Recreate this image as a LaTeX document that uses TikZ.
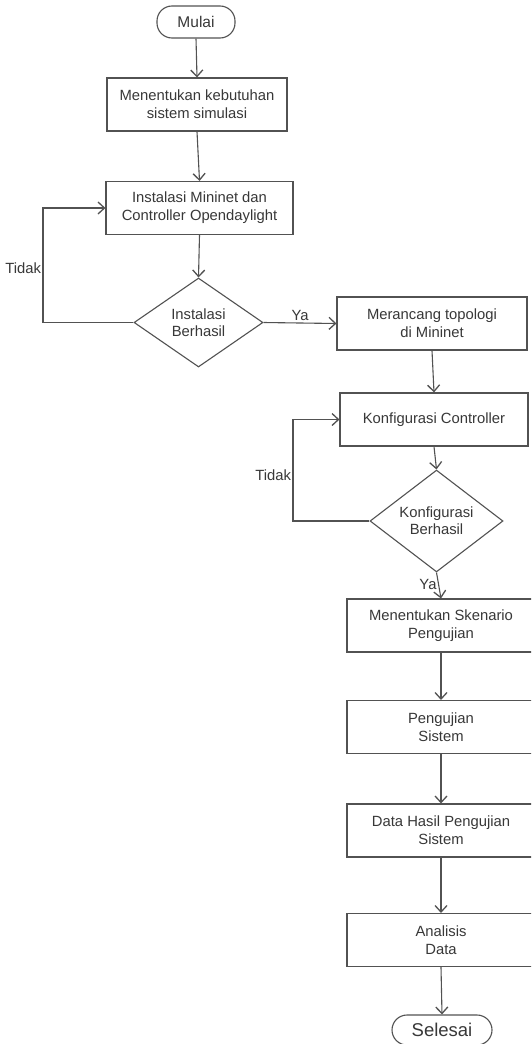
\documentclass[tikz,border=0pt]{standalone}
\usepackage{fontspec}
\setmainfont{Liberation Sans}
\usetikzlibrary{arrows.meta,shapes.geometric}
\tikzset{
  every node/.style={text=black!78, font=\fontsize{14.8pt}{18pt}\selectfont},
  procbox/.style={draw=black!68, line width=1.1pt, rectangle, inner sep=0pt, minimum height=53pt, align=center},
  termbox/.style={draw=black!68, line width=1.1pt, rectangle, rounded corners=15pt, inner sep=0pt, align=center},
  decbox/.style={draw=black!68, line width=1.1pt, diamond, inner sep=0pt, align=center, font=\fontsize{14.8pt}{17pt}\selectfont},
  arr/.style={draw=black!68, line width=1.1pt, -{Straight Barb[length=6.5pt,width=12pt,line width=1.3pt]}},
  lbl/.style={inner sep=1.5pt}
}
\begin{document}
\begin{tikzpicture}[x=1pt,y=-1pt]
\useasboundingbox (0,0) rectangle (531,1044);
\clip (0,0) rectangle (531,1044);
\fill[white] (0,0) rectangle (531,1044);

\node[termbox, minimum width=78pt, minimum height=32pt, font=\fontsize{15.5pt}{18pt}\selectfont] (mulai) at (196,22) {Mulai};
\node[procbox, minimum width=180pt] (b1) at (197,104.5) {Menentukan kebutuhan\\sistem simulasi};
\node[procbox, minimum width=187pt] (b2) at (199.5,208) {Instalasi Mininet dan\\Controller Opendaylight};
\node[decbox, minimum width=129pt, minimum height=89pt] (d1) at (198.5,322.5) {Instalasi\\Berhasil};
\node[procbox, minimum width=190pt] (b3) at (432,323.5) {Merancang topologi\\di Mininet};
\node[procbox, minimum width=188pt] (b4) at (434,419.5) {Konfigurasi Controller};
\node[decbox, minimum width=133pt, minimum height=88pt] (d2) at (436.5,521) {Konfigurasi\\Berhasil};
\node[procbox, minimum width=188pt] (b5) at (441,625.5) {Menentukan Skenario\\Pengujian};
\node[procbox, minimum width=188pt] (b6) at (441,727) {Pengujian\\Sistem};
\node[procbox, minimum width=188pt] (b7) at (441,830.5) {Data Hasil Pengujian\\Sistem};
\node[procbox, minimum width=188pt] (b8) at (441,940) {Analisis\\Data};
\node[termbox, minimum width=100pt, minimum height=30pt, font=\fontsize{18.5pt}{20pt}\selectfont] (selesai) at (442,1030) {Selesai};

\coordinate (t1) at (43,322.5);
\coordinate (t2) at (293,521);

\draw[arr] (mulai.south) -- (b1.north);
\draw[arr] (b1.south) -- (b2.north);
\draw[arr] (b2.south) -- (d1.north);
\draw[arr] (d1.west) -- (t1) -- node[lbl, left, pos=0.47] {Tidak} (t1 |- b2.west) -- (b2.west);
\draw[arr] (d1.east) -- node[lbl, above] {Ya} (b3.west);
\draw[arr] (b3.south) -- (b4.north);
\draw[arr] (b4.south) -- (d2.north);
\draw[arr] (d2.west) -- (t2) -- node[lbl, left, pos=0.45] {Tidak} (t2 |- b4.west) -- (b4.west);
\draw[arr] (d2.south) -- node[lbl, left, pos=0.45] {Ya} (b5.north);
\draw[arr] (b5.south) -- (b6.north);
\draw[arr] (b6.south) -- (b7.north);
\draw[arr] (b7.south) -- (b8.north);
\draw[arr] (b8.south) -- (selesai.north);
\end{tikzpicture}
\end{document}
